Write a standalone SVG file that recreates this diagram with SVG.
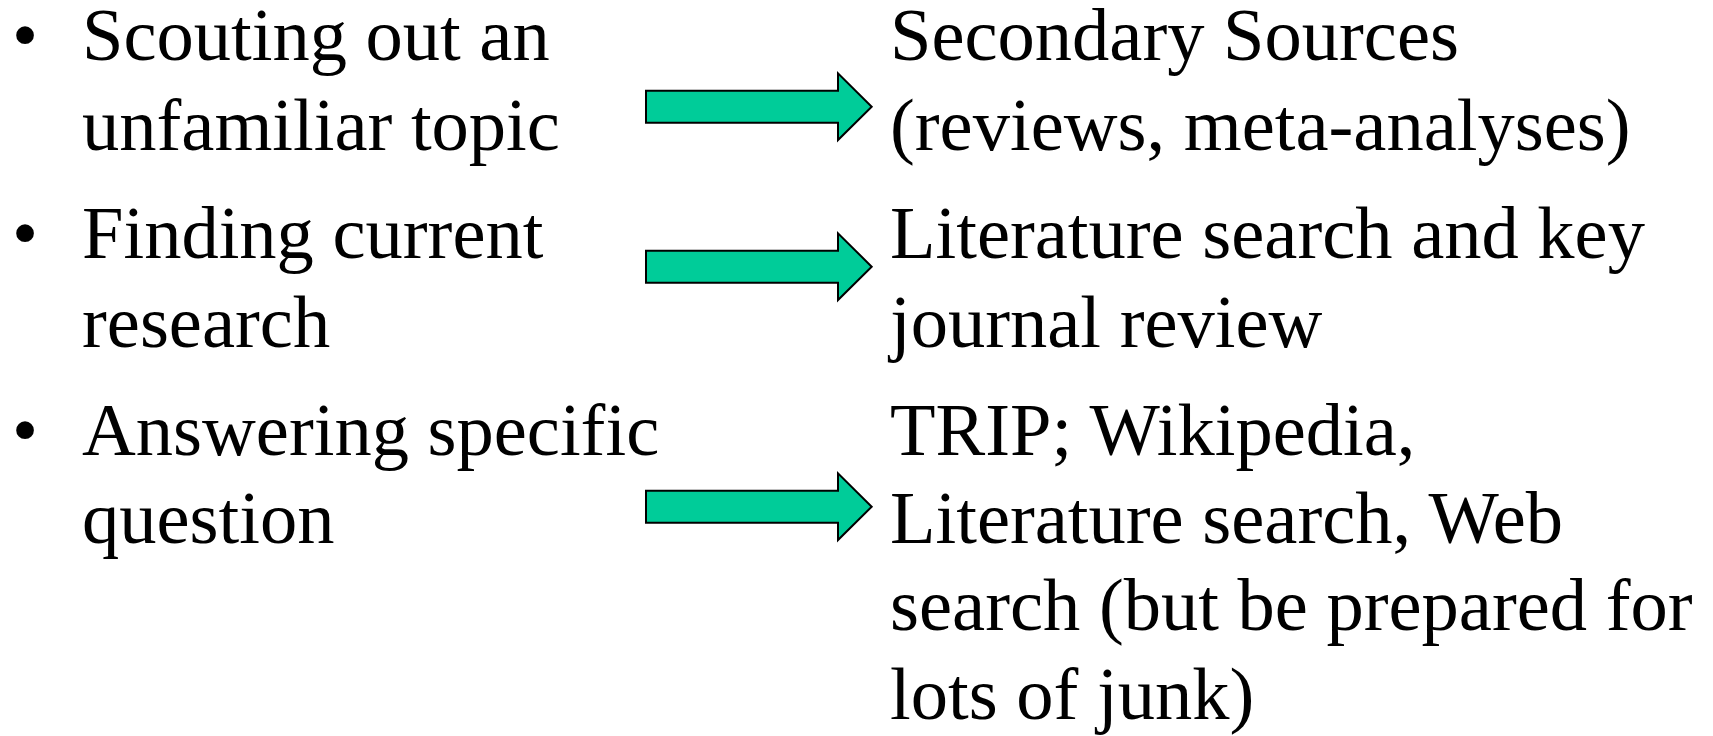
<svg xmlns="http://www.w3.org/2000/svg" width="1713" height="736" viewBox="0 0 1713 736">
<style>
  text { font-family: "Liberation Serif", "Times New Roman", serif; font-size: 74.5px; fill: #000; }
  .arrow { fill: #00CC99; stroke: #000; stroke-width: 2; stroke-linejoin: miter; }
</style>
<rect width="1713" height="736" fill="#fff"/>
<g id="item-scouting">
  <text x="12" y="60">•</text>
  <text x="82" y="60">Scouting out an</text>
  <text x="82" y="150">unfamiliar topic</text>
</g>
<g id="item-finding">
  <text x="12" y="258">•</text>
  <text x="82" y="258">Finding current</text>
  <text x="82" y="347">research</text>
</g>
<g id="item-answering">
  <text x="12" y="455">•</text>
  <text x="82" y="455">Answering specific</text>
  <text x="82" y="543">question</text>
</g>
<g id="result-secondary">
  <text x="890" y="60">Secondary Sources</text>
  <text x="890" y="150">(reviews, meta-analyses)</text>
</g>
<g id="result-literature">
  <text x="890" y="258">Literature search and key</text>
  <text x="890" y="347">journal review</text>
</g>
<g id="result-trip">
  <text x="890" y="455">TRIP; Wikipedia,</text>
  <text x="890" y="543">Literature search, Web</text>
  <text x="890" y="630">search (but be prepared for</text>
  <text x="890" y="719">lots of junk)</text>
</g>
<g id="connectors">
  <polygon class="arrow" points="646,90.7 838,90.7 838,73.3 871.7,106.7 838,140 838,122.7 646,122.7"/>
  <polygon class="arrow" points="646,250.7 838,250.7 838,233.3 871.7,266.7 838,300 838,282.7 646,282.7"/>
  <polygon class="arrow" points="646,490.7 838,490.7 838,473.3 871.7,506.7 838,540 838,522.7 646,522.7"/>
</g>
</svg>
